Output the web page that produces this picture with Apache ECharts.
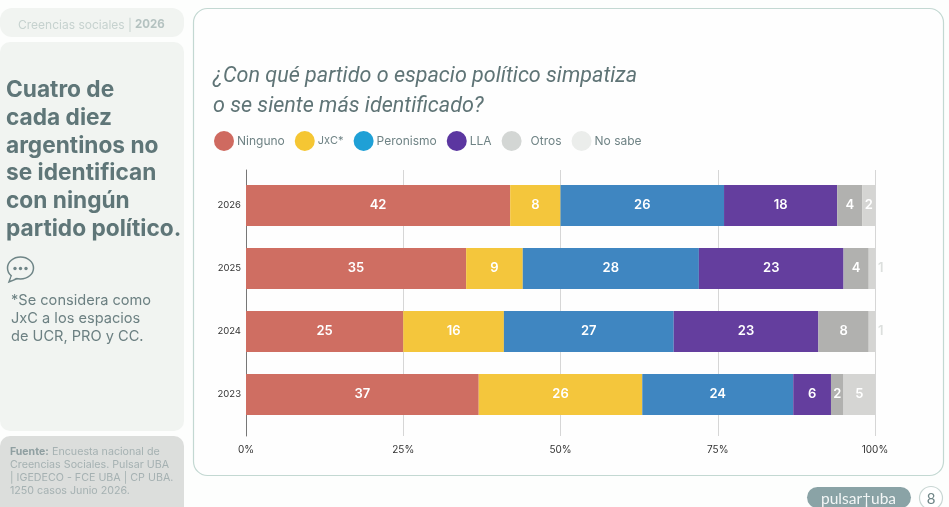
<!DOCTYPE html>
<html><head><meta charset="utf-8">
<style>html,body{margin:0;padding:0;background:#fdfefd}#c{width:949px;height:507px}</style>
<script src="https://cdn.jsdelivr.net/npm/echarts@6/dist/echarts.min.js"></script>
</head><body><div id="c"></div>
<script>
const years = ['2026','2025','2024','2023'];
const ninguno = [42,35,25,37];
const jxc = [8,9,16,26];
const peronismo = [26,28,27,24];
const lla = [18,23,23,6];
const otros = [4,4,8,2];
const noSabe = [2,1,1,5];
const seriesNames = ['Ninguno','JxC*','Peronismo','LLA','Otros','No sabe'];
const seriesValues = [ninguno,jxc,peronismo,lla,otros,noSabe];
const barColors = ['#cf6e62','#f4c63c','#3f86c1','#643e9e','#b1b1af','#d5d5d3'];
const legendColors = ['#cf6a60','#f5c633','#1fa0d6','#5b36a0','#d3d6d4','#ebedeb'];
const headline = ['Cuatro de','cada diez','argentinos no','se identifican','con ningún','partido político.'];
const note = ['*Se considera como','JxC a los espacios','de UCR, PRO y CC.'];
const source = ['Encuesta nacional de','Creencias Sociales. Pulsar UBA','| IGEDECO - FCE UBA | CP UBA.','1250 casos Junio 2026.'];
const titleLines = ['¿Con qué partido o espacio político simpatiza','o se siente más identificado?'];

const F = 'Inter, "Noto Sans", sans-serif';
const panel = (x,y,w,h,fill,r,stroke) => ({type:'rect',silent:true,z:-10,shape:{x,y,width:w,height:h,r},style:{fill,stroke:stroke||null,lineWidth:stroke?1.2:0}});
const txt = (x,y,t,o) => ({type:'text',silent:true,z:5,x,y,style:Object.assign({text:t,fontFamily:F,textVerticalAlign:'middle'},o)});
const g = [
  panel(193.5,8.5,750,467,'#fefefe',14,'#c3d8d2'),
  panel(0,8,184,29,'#f1f4f1',12),
  panel(0,42,184,389,'#f1f4f1',10),
  panel(0,436,184,80,'#dcdedc',10),
  txt(18,25,'Creencias sociales |',{fill:'#c6d2cf',fontSize:12}),
  txt(135,25,'2026',{fill:'#b4c2c0',fontSize:11.5,fontWeight:'bold'}),
  txt(213,76.5,titleLines[0],{fill:'#5f7476',fontSize:21.55,fontStyle:'italic',fontFamily:'Roboto,sans-serif'}),
  txt(213,106.5,titleLines[1],{fill:'#5f7476',fontSize:21.55,fontStyle:'italic',fontFamily:'Roboto,sans-serif'}),
  {type:'polygon',silent:true,z:5,shape:{points:[[12,274],[9,282],[19,278]]},style:{fill:'#f1f4f1',stroke:'#6f8587',lineWidth:1.5}},
  {type:'ellipse',silent:true,z:6,shape:{cx:20.5,cy:268,rx:13,ry:11},style:{fill:'#f1f4f1',stroke:'#6f8587',lineWidth:1.5}},
  {type:'polygon',silent:true,z:7,shape:{points:[[12.5,274],[10.5,280],[18,277]]},style:{fill:'#f1f4f1'}},
  {type:'circle',silent:true,z:8,shape:{cx:15,cy:268.5,r:1.7},style:{fill:'#6f8587'}},
  {type:'circle',silent:true,z:8,shape:{cx:20.5,cy:268.5,r:1.7},style:{fill:'#6f8587'}},
  {type:'circle',silent:true,z:8,shape:{cx:26,cy:268.5,r:1.7},style:{fill:'#6f8587'}},
  {type:'rect',silent:true,z:-5,shape:{x:807,y:487,width:104,height:21,r:10.5},style:{fill:'#8aa3a6'}},
  txt(821,499,'pulsar†uba',{fill:'#f3f6f6',fontSize:15.5,fontFamily:'Lato,sans-serif'}),
  {type:'circle',silent:true,z:5,shape:{cx:931,cy:498,r:11.5},style:{fill:'#fff',stroke:'#c8d6d3',lineWidth:1.2}},
  txt(931,499,'8',{fill:'#6f8587',fontSize:15,textAlign:'center',fontFamily:'Lato,sans-serif'})
];
headline.forEach((t,i)=>g.push(txt(6,90.5+i*27.7,t,{fill:'#5f7678',fontSize:22.7,fontWeight:'bold'})));
note.forEach((t,i)=>g.push(txt(11,301+i*18,t,{fill:'#6c8082',fontSize:14.6})));
source.forEach((t,i)=>{
  const y=452+i*13;
  if(i===0){g.push(txt(10,y,'Fuente:',{fill:'#8f9fa1',fontSize:10.5,fontWeight:'bold'}));g.push(txt(52,y,t,{fill:'#a5b1b2',fontSize:10.7}));}
  else g.push(txt(10,y,t,{fill:'#a5b1b2',fontSize:10.7}));
});

const series = seriesNames.map((name,s)=>({
  name,type:'bar',stack:'t',xAxisIndex:0,yAxisIndex:0,barWidth:41,
  itemStyle:{color:barColors[s]},
  data:seriesValues[s].map(v=>{
    const outside = s===5 && v===1;
    return {value:v,label:{
      show:true,position:outside?'right':'inside',distance:3,
      color:outside?'#dcdfdd':'#ffffff',fontFamily:F,fontWeight:600,fontSize:13
    }};
  })
}));
const legendText = {'JxC*':{fontSize:11},'Otros':{padding:[0,0,0,4]}};
const chart = echarts.init(document.getElementById('c'));
chart.setOption({
  animation:false,
  backgroundColor:'#fdfefd',
  graphic:g,
  legend:{
    left:209,top:126,itemWidth:20,itemHeight:20,itemGap:10,icon:'circle',
    selectedMode:false,
    textStyle:{color:'#6f8385',fontSize:12,fontFamily:F,padding:[0,0,0,-2]},
    data:seriesNames.map((name,i)=>({name,itemStyle:{color:legendColors[i]},textStyle:legendText[name]}))
  },
  grid:[
    {left:246,right:74,top:174,height:252},
    {left:246,right:74,top:170,height:266}
  ],
  xAxis:[
    {gridIndex:0,type:'value',min:0,max:100,interval:25,axisLine:{show:false},axisTick:{show:false},axisLabel:{show:false},splitLine:{show:false}},
    {gridIndex:1,type:'value',min:0,max:100,interval:25,axisLine:{show:false},axisTick:{show:false},
     axisLabel:{formatter:'{value}%',color:'#333',fontSize:10,fontFamily:F,margin:9,hideOverlap:false},
     splitLine:{show:true,lineStyle:{color:'#d6d6d6',width:1}}}
  ],
  yAxis:[
    {gridIndex:0,type:'category',inverse:true,data:years,axisLine:{show:false},axisTick:{show:false},
     axisLabel:{color:'#333',fontSize:9.5,fontFamily:F,margin:5}},
    {gridIndex:1,type:'category',data:[''],axisLine:{show:true,lineStyle:{color:'#777',width:1}},axisTick:{show:false},axisLabel:{show:false}}
  ],
  series
});
</script></body></html>
